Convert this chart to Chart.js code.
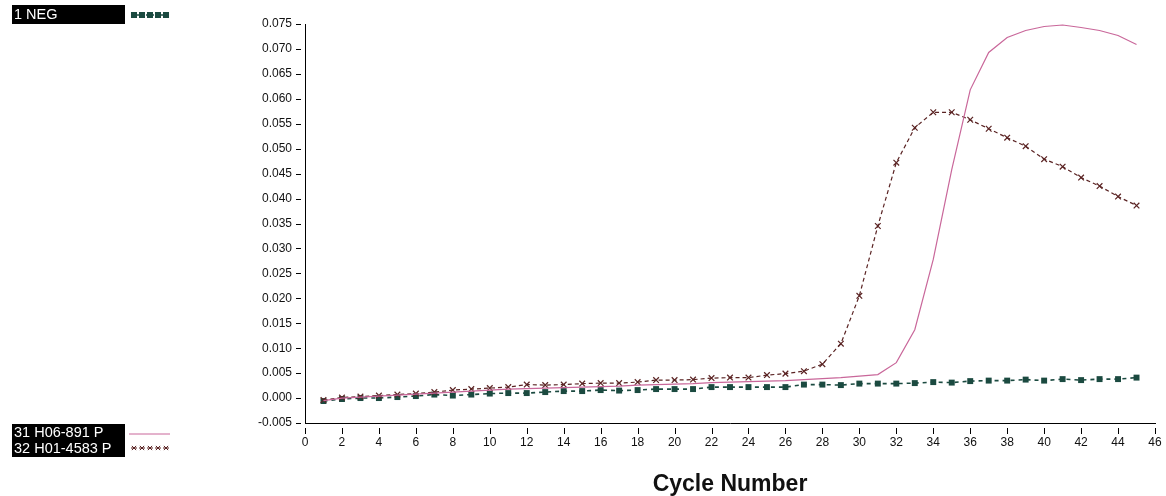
<!DOCTYPE html>
<html>
<head>
<meta charset="utf-8">
<script src="https://cdn.jsdelivr.net/npm/chart.js@4/dist/chart.umd.min.js"></script>
<style>
  html, body { margin: 0; padding: 0; background: #fff; }
  #wrap { width: 1166px; height: 496px; position: relative; }
</style>
</head>
<body>
<div id="wrap"><canvas id="pcrChart"></canvas></div>
<script>
// ---- data ----
const cycles = [1,2,3,4,5,6,7,8,9,10,11,12,13,14,15,16,17,18,19,20,21,22,23,24,25,26,27,28,29,30,31,32,33,34,35,36,37,38,39,40,41,42,43,44,45];

const negValues = [
    -0.0006, -0.0002, 0.0000, 0.0000, 0.0002, 0.0004, 0.0007, 0.0005, 0.0007, 0.0009,
    0.0010, 0.0010, 0.0012, 0.0014, 0.0014, 0.0016, 0.0015, 0.0016, 0.0018, 0.0018,
    0.0018, 0.0022, 0.0022, 0.0022, 0.0022, 0.0022, 0.0027, 0.0027, 0.0026, 0.0029,
    0.0029, 0.0029, 0.0030, 0.0032, 0.0031, 0.0034, 0.0035, 0.0035, 0.0037, 0.0035,
    0.0038, 0.0036, 0.0038, 0.0038, 0.0041
];

const h06Values = [
    -0.0005, 0.0000, 0.0002, 0.0004, 0.0006, 0.0008, 0.0010, 0.0012, 0.0014, 0.0016,
    0.0018, 0.0019, 0.0020, 0.0021, 0.0022, 0.0023, 0.0024, 0.0026, 0.0027, 0.0028,
    0.0029, 0.0031, 0.0032, 0.0033, 0.0034, 0.0035, 0.0037, 0.0039, 0.0041, 0.0044,
    0.0047, 0.0071, 0.0137, 0.0278, 0.0458, 0.0618, 0.0693, 0.0723, 0.0737, 0.0745,
    0.0748, 0.0743, 0.0737, 0.0727, 0.0709
];

const h01Values = [
    -0.0004, 0.0001, 0.0003, 0.0005, 0.0007, 0.0009, 0.0012, 0.0016, 0.0018, 0.0020,
    0.0022, 0.0027, 0.0026, 0.0027, 0.0029, 0.0030, 0.0030, 0.0032, 0.0036, 0.0036,
    0.0037, 0.0040, 0.0041, 0.0041, 0.0046, 0.0049, 0.0054, 0.0068, 0.0109, 0.0205,
    0.0345, 0.0472, 0.0542, 0.0573, 0.0573, 0.0558, 0.0540, 0.0522, 0.0505, 0.0479,
    0.0464, 0.0442, 0.0425, 0.0404, 0.0386
];

const seriesLabels = ['1 NEG', '31 H06-891 P', '32 H01-4583 P'];
const yTicks = { min: -0.005, max: 0.075, step: 0.005 };
const xTicks = { min: 0, max: 46, step: 2 };

const NEG_COLOR = '#1b4a40';
const H06_COLOR = '#c9679a';
const H01_COLOR = '#5a2323';
const FONT = '"Liberation Sans", Arial, sans-serif';

function toPoints(values) {
    return cycles.map((c, i) => ({ x: c, y: values[i] }));
}

// small tick marks sitting a few px off the axes, like the original
const offsetTicks = {
    id: 'offsetTicks',
    afterDraw(chart) {
        const ctx = chart.ctx;
        const xs = chart.scales.x, ys = chart.scales.y;
        ctx.save();
        ctx.strokeStyle = '#000';
        ctx.lineWidth = 1;
        ctx.beginPath();
        xs.ticks.forEach(t => {
            const px = Math.round(xs.getPixelForValue(t.value)) + 0.5;
            ctx.moveTo(px, xs.top + 5);
            ctx.lineTo(px, xs.top + 11);
        });
        ys.ticks.forEach(t => {
            const py = Math.round(ys.getPixelForValue(t.value)) + 0.5;
            ctx.moveTo(ys.right - 9, py);
            ctx.lineTo(ys.right - 4, py);
        });
        ctx.stroke();
        ctx.restore();
    }
};

// legend boxes drawn on the canvas (black boxes, white text, swatch at right)
function drawSwatch(ctx, sw, x1, x2, y) {
    ctx.save();
    ctx.strokeStyle = sw.color;
    ctx.fillStyle = sw.color;
    ctx.lineWidth = sw.width;
    ctx.setLineDash(sw.dash);
    ctx.beginPath();
    ctx.moveTo(x1, y);
    ctx.lineTo(x2, y);
    ctx.stroke();
    ctx.setLineDash([]);
    if (sw.radius > 0) {
        for (let x = x1 + 3; x <= x2 - 2; x += 8) {
            Chart.helpers.drawPoint(ctx, {
                pointStyle: sw.style,
                radius: sw.radius,
                rotation: 0,
                borderWidth: 1
            }, x, y);
        }
    }
    ctx.restore();
}

const legendBoxes = {
    id: 'legendBoxes',
    afterDraw(chart) {
        const ctx = chart.ctx;
        const dss = chart.data.datasets;
        ctx.save();
        ctx.font = '14.5px ' + FONT;
        ctx.textBaseline = 'middle';

        ctx.fillStyle = '#000';
        ctx.fillRect(12, 5, 113, 19);
        ctx.fillStyle = '#fff';
        ctx.fillText(dss[0].label, 14, 15);

        ctx.fillStyle = '#000';
        ctx.fillRect(12, 424, 113, 33);
        ctx.fillStyle = '#fff';
        ctx.fillText(dss[1].label, 14, 433);
        ctx.fillText(dss[2].label, 14, 448.5);
        ctx.restore();

        drawSwatch(ctx, { color: NEG_COLOR, width: 1.5, dash: [3, 2], radius: 3.2, style: 'rect' }, 131, 171, 15);
        drawSwatch(ctx, { color: H06_COLOR, width: 1, dash: [], radius: 0 }, 129, 170, 434);
        drawSwatch(ctx, { color: H01_COLOR, width: 1, dash: [2, 2], radius: 3, style: 'crossRot' }, 131, 170, 448);
    }
};

const ctx = document.getElementById('pcrChart').getContext('2d');
const pcrChart = new Chart(ctx, {
    type: 'line',
    data: {
        datasets: [
            {
                label: seriesLabels[0],
                data: toPoints(negValues),
                borderColor: NEG_COLOR,
                backgroundColor: NEG_COLOR,
                borderWidth: 1.6,
                borderDash: [4, 4],
                pointStyle: 'rect',
                pointRadius: 4.2,
                pointBorderWidth: 0,
                pointBackgroundColor: NEG_COLOR,
                order: 3
            },
            {
                label: seriesLabels[1],
                data: toPoints(h06Values),
                borderColor: H06_COLOR,
                backgroundColor: H06_COLOR,
                borderWidth: 1.2,
                pointRadius: 0,
                order: 1
            },
            {
                label: seriesLabels[2],
                data: toPoints(h01Values),
                borderColor: H01_COLOR,
                backgroundColor: H01_COLOR,
                borderWidth: 1.2,
                borderDash: [4, 3],
                pointStyle: 'crossRot',
                pointRadius: 4,
                pointBorderWidth: 1.2,
                pointBorderColor: H01_COLOR,
                order: 2
            }
        ]
    },
    options: {
        responsive: true,
        maintainAspectRatio: false,
        animation: false,
        layout: { padding: { top: 24, right: 11, bottom: 0, left: 0 } },
        plugins: {
            legend: { display: false },
            tooltip: { enabled: false }
        },
        scales: {
            x: {
                type: 'linear',
                min: xTicks.min,
                max: xTicks.max,
                afterFit: (s) => { s.height = 73; },
                border: { display: true, color: '#000', width: 1 },
                grid: {
                    display: true,
                    drawOnChartArea: false,
                    drawTicks: true,
                    tickLength: 11,
                    tickColor: 'rgba(0,0,0,0)'
                },
                ticks: {
                    stepSize: xTicks.step,
                    padding: 1,
                    color: '#111',
                    font: { family: FONT, size: 12 },
                    maxRotation: 0
                },
                title: {
                    display: true,
                    text: 'Cycle Number',
                    color: '#111',
                    padding: { top: 0, bottom: 0 },
                    font: { family: FONT, size: 23, weight: 'bold', lineHeight: 1.0 }
                }
            },
            y: {
                type: 'linear',
                min: yTicks.min,
                max: yTicks.max,
                afterFit: (s) => { s.width = 305; },
                border: { display: true, color: '#000', width: 1 },
                grid: {
                    display: true,
                    drawOnChartArea: false,
                    drawTicks: true,
                    tickLength: 12,
                    tickColor: 'rgba(0,0,0,0)'
                },
                ticks: {
                    stepSize: yTicks.step,
                    padding: 1,
                    color: '#111',
                    font: { family: FONT, size: 12 },
                    callback: (v) => v.toFixed(3)
                }
            }
        }
    },
    plugins: [offsetTicks, legendBoxes]
});
</script>
</body>
</html>
